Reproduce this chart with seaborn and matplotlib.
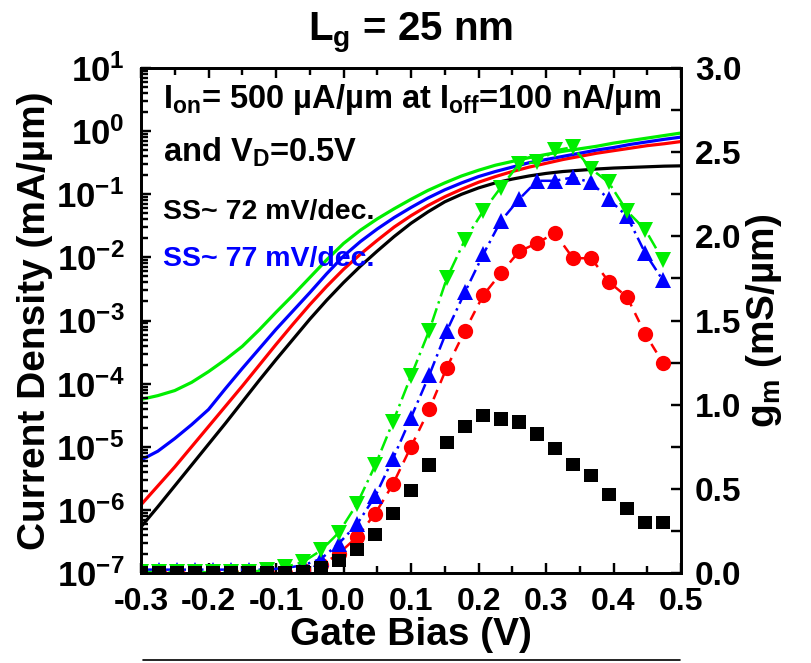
import numpy as np
import matplotlib
matplotlib.use("Agg")
import matplotlib.pyplot as plt
import matplotlib.transforms as mtransforms
from matplotlib.collections import LineCollection
from matplotlib.lines import Line2D
from matplotlib.ticker import LogLocator, MultipleLocator, NullFormatter, FormatStrFormatter
import seaborn as sns

# Gate bias grid for the transfer curves (V)
vg_id = [-0.300, -0.275, -0.250, -0.225, -0.200, -0.175, -0.150, -0.125, -0.100, -0.075,
         -0.050, -0.025, 0.000, 0.025, 0.050, 0.075, 0.100, 0.125, 0.150, 0.175,
         0.200, 0.225, 0.250, 0.275, 0.300, 0.325, 0.350, 0.375, 0.400, 0.425,
         0.450, 0.475, 0.500]

# log10 of the drain current density (mA/um) at VD = 0.5 V
log_id_black = [-6.27, -5.95, -5.62, -5.29, -4.96, -4.63, -4.29, -3.95, -3.62, -3.30,
                -2.98, -2.68, -2.40, -2.14, -1.90, -1.67, -1.46, -1.28, -1.12, -1.00,
                -0.90, -0.82, -0.76, -0.71, -0.67, -0.64, -0.62, -0.60, -0.585, -0.575,
                -0.565, -0.555, -0.55]
log_id_red = [-5.92, -5.62, -5.32, -5.00, -4.68, -4.36, -4.04, -3.71, -3.38, -3.06,
              -2.75, -2.46, -2.19, -1.95, -1.73, -1.52, -1.34, -1.18, -1.04, -0.92,
              -0.81, -0.72, -0.64, -0.57, -0.51, -0.45, -0.40, -0.35, -0.31, -0.27,
              -0.23, -0.20, -0.165]
log_id_blue = [-5.21, -5.07, -4.87, -4.65, -4.41, -4.08, -3.76, -3.45, -3.14, -2.85,
               -2.56, -2.26, -1.98, -1.75, -1.55, -1.37, -1.21, -1.06, -0.93, -0.82,
               -0.72, -0.64, -0.57, -0.50, -0.45, -0.40, -0.35, -0.30, -0.26, -0.21,
               -0.17, -0.13, -0.095]
log_id_green = [-4.25, -4.19, -4.11, -3.98, -3.81, -3.62, -3.41, -3.15, -2.87, -2.60,
                -2.32, -2.04, -1.78, -1.57, -1.39, -1.23, -1.08, -0.94, -0.82, -0.71,
                -0.62, -0.54, -0.48, -0.42, -0.37, -0.32, -0.28, -0.24, -0.19, -0.15,
                -0.11, -0.07, -0.03]

# Gate bias grid for the transconductance points (V)
vg_gm = [-0.300, -0.273, -0.247, -0.220, -0.193, -0.167, -0.140, -0.113, -0.087, -0.060,
         -0.033, -0.007, 0.020, 0.047, 0.073, 0.100, 0.127, 0.153, 0.180, 0.207,
         0.233, 0.260, 0.287, 0.313, 0.340, 0.367, 0.393, 0.420, 0.447, 0.473]

# Transconductance (mS/um)
gm_black = [0.0, 0.0, 0.0, 0.0, 0.0, 0.0, 0.0, 0.0, 0.0, 0.005,
            0.03, 0.075, 0.139, 0.23, 0.353, 0.49, 0.64, 0.776, 0.87, 0.935,
            0.915, 0.897, 0.825, 0.74, 0.645, 0.58, 0.466, 0.383, 0.30, 0.30]
gm_red = [0.0, 0.0, 0.0, 0.0, 0.0, 0.0, 0.0, 0.0, 0.0, 0.02,
          0.046, 0.115, 0.214, 0.353, 0.526, 0.75, 0.972, 1.22, 1.44, 1.65,
          1.78, 1.91, 1.96, 2.02, 1.87, 1.87, 1.73, 1.64, 1.42, 1.25]
gm_blue = [0.02, 0.02, 0.02, 0.02, 0.02, 0.02, 0.02, 0.02, 0.03, 0.045,
           0.085, 0.175, 0.29, 0.456, 0.677, 0.923, 1.175, 1.438, 1.669, 1.893,
           2.09, 2.22, 2.33, 2.33, 2.35, 2.32, 2.22, 2.12, 1.90, 1.74]
gm_green = [0.005, 0.005, 0.005, 0.005, 0.005, 0.005, 0.005, 0.02, 0.035, 0.065,
            0.135, 0.24, 0.41, 0.64, 0.895, 1.17, 1.44, 1.75, 1.98, 2.15,
            2.29, 2.43, 2.44, 2.51, 2.53, 2.40, 2.32, 2.15, 2.04, 1.86]

left_ticks = [1e-7, 1e-6, 1e-5, 1e-4, 1e-3, 1e-2, 1e-1, 1e0, 1e1]
left_tick_labels = ["10$^{\\mathregular{-7}}$", "10$^{\\mathregular{-6}}$", "10$^{\\mathregular{-5}}$",
                    "10$^{\\mathregular{-4}}$", "10$^{\\mathregular{-3}}$", "10$^{\\mathregular{-2}}$",
                    "10$^{\\mathregular{-1}}$", "10$^{\\mathregular{0}}$", "10$^{\\mathregular{1}}$"]

sns.set_style("ticks")
plt.rcParams["font.family"] = ["Liberation Sans", "DejaVu Sans"]
plt.rcParams["font.weight"] = "bold"
plt.rcParams["axes.labelweight"] = "bold"
plt.rcParams["axes.unicode_minus"] = False
plt.rcParams["mathtext.fontset"] = "custom"
plt.rcParams["mathtext.rm"] = "Liberation Sans:bold"
plt.rcParams["mathtext.it"] = "Liberation Sans:bold"
plt.rcParams["mathtext.bf"] = "Liberation Sans:bold"
plt.rcParams["mathtext.default"] = "rm"
for key in ("text.color", "axes.labelcolor", "xtick.color", "ytick.color", "axes.edgecolor"):
    plt.rcParams[key] = "black"

W, H = 811, 663
DPI = 100
AX_W, AX_H = 540, 505
fig = plt.figure(figsize=(W / DPI, H / DPI), dpi=DPI)
ax = fig.add_axes([141 / W, 1 - 573 / H, AX_W / W, AX_H / H])

# Transfer curves on the logarithmic axis
for logs, col in [(log_id_black, "black"), (log_id_red, "#ff0000"),
                  (log_id_blue, "#0000ff"), (log_id_green, "#00ee00")]:
    sns.lineplot(x=vg_id, y=10.0 ** np.asarray(logs), ax=ax, color=col, lw=2.3,
                 estimator=None, sort=False)

ax.set_yscale("log")
ax.set_xlim(-0.3, 0.5)
ax.set_ylim(1e-7, 1e1)

# Transconductance on the secondary axis
ax2 = ax.twinx()
sns.scatterplot(x=vg_gm, y=gm_black, ax=ax2, marker="s", color="black",
                s=95, edgecolor="none", zorder=3)
for vals, col, mk, ls in [(gm_red, "#ff0000", "o", (0, (4, 3))),
                          (gm_blue, "#0000ff", "^", (0, (5, 2, 1, 2))),
                          (gm_green, "#00ee00", "v", (0, (6, 2, 1, 2)))]:
    sns.lineplot(x=vg_gm, y=vals, ax=ax2, color=col, marker=mk, markersize=11,
                 markeredgewidth=0, linestyle=ls, lw=1.8, estimator=None, sort=False)
ax2.set_ylim(0, 3.0)

ax.set_xlabel("Gate Bias (V)", fontsize=28, labelpad=0)
ax.set_ylabel("Current Density (mA/\u00b5m)", fontsize=28, labelpad=2)
ax2.set_ylabel("g$_{\\mathregular{m}}$ (mS/\u00b5m)", fontsize=28, labelpad=2)

# Tick locations and labels
ax.set_yticks(left_ticks)
ax.set_yticklabels(left_tick_labels)
ax.yaxis.set_minor_locator(LogLocator(base=10, subs=range(2, 10), numticks=30))
ax.yaxis.set_minor_formatter(NullFormatter())
ax.xaxis.set_major_locator(MultipleLocator(0.1))
ax.xaxis.set_minor_locator(MultipleLocator(0.05))
ax.xaxis.set_major_formatter(FormatStrFormatter("%.1f"))
ax.tick_params(axis="both", which="both", direction="in", top=True, right=False,
               width=1.6, color="black")
ax.tick_params(axis="both", which="major", length=7)
ax.tick_params(axis="both", which="minor", length=5)
ax.tick_params(axis="x", labelsize=23, pad=10)
ax.tick_params(axis="y", labelsize=25, pad=12)

ax2.yaxis.set_major_locator(MultipleLocator(0.5))
ax2.yaxis.set_minor_locator(MultipleLocator(0.25))
ax2.yaxis.set_major_formatter(FormatStrFormatter("%.1f"))
ax2.tick_params(axis="y", which="both", direction="in", width=1.6, color="black",
                length=7, labelsize=24, pad=10)

for a in (ax, ax2):
    for sp in a.spines.values():
        sp.set_linewidth(2)
        sp.set_visible(True)
        sp.set_color("black")


# Inward tick marks drawn as short segments along every side of the frame,
# placed at the positions chosen by each axis locator.
def pts_to_frac(length_pt, span_px):
    return length_pt * DPI / 72.0 / span_px


def inside(vals, lo, hi):
    return [v for v in vals if lo - 1e-12 <= v <= hi + 1e-12]


x_lo, x_hi = ax.get_xlim()
segs = []
for locs, ln in [(ax.xaxis.get_majorticklocs(), 7), (ax.xaxis.get_minorticklocs(), 5)]:
    f = pts_to_frac(ln, AX_H)
    for x in inside(locs, x_lo, x_hi):
        segs.append([(x, 0.0), (x, f)])
        segs.append([(x, 1.0), (x, 1.0 - f)])
ax.add_collection(LineCollection(
    segs, colors="black", linewidths=1.6, zorder=6, clip_on=False,
    transform=mtransforms.blended_transform_factory(ax.transData, ax.transAxes)))

y_lo, y_hi = ax.get_ylim()
segs = []
for locs, ln in [(ax.yaxis.get_majorticklocs(), 7), (ax.yaxis.get_minorticklocs(), 5)]:
    f = pts_to_frac(ln, AX_W)
    for y in inside(locs, y_lo, y_hi):
        segs.append([(0.0, y), (f, y)])
ax.add_collection(LineCollection(
    segs, colors="black", linewidths=1.6, zorder=6, clip_on=False,
    transform=mtransforms.blended_transform_factory(ax.transAxes, ax.transData)))

g_lo, g_hi = ax2.get_ylim()
segs = []
for locs in (ax2.yaxis.get_majorticklocs(), ax2.yaxis.get_minorticklocs()):
    f = pts_to_frac(7, AX_W)
    for y in inside(locs, g_lo, g_hi):
        segs.append([(1.0, y), (1.0 - f, y)])
ax2.add_collection(LineCollection(
    segs, colors="black", linewidths=1.6, zorder=6, clip_on=False,
    transform=mtransforms.blended_transform_factory(ax2.transAxes, ax2.transData)))

ax.set_xlim(x_lo, x_hi)
ax.set_ylim(y_lo, y_hi)
ax2.set_ylim(g_lo, g_hi)

fig.text(0.5 * (141 + 681) / W, 1 - 40 / H, "L$_{\\mathregular{g}}$ = 25 nm",
         ha="center", va="baseline", fontsize=29, fontweight="bold")
fig.text(163 / W, 1 - 108 / H,
         "I$_{\\mathregular{on}}$= 500 \u00b5A/\u00b5m at I$_{\\mathregular{off}}$=100 nA/\u00b5m",
         ha="left", va="baseline", fontsize=23.5, fontweight="bold")
fig.text(163 / W, 1 - 162 / H, "and V$_{\\mathregular{D}}$=0.5V",
         ha="left", va="baseline", fontsize=23.5, fontweight="bold")
fig.text(163 / W, 1 - 219 / H, "SS~ 72 mV/dec.", color="black",
         ha="left", va="baseline", fontsize=20.5, fontweight="bold")
fig.text(163 / W, 1 - 266 / H, "SS~ 77 mV/dec.", color="#0000ff",
         ha="left", va="baseline", fontsize=20.5, fontweight="bold")

fig.add_artist(Line2D([143 / W, 680 / W], [1 - 660 / H, 1 - 660 / H],
                      transform=fig.transFigure, color="black", lw=1.2))

fig.savefig("out.png", dpi=DPI)
